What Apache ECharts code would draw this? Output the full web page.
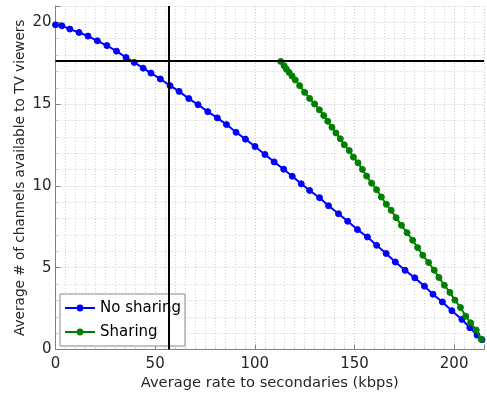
<!DOCTYPE html>
<html>
<head>
<meta charset="utf-8">
<script src="https://cdn.jsdelivr.net/npm/echarts@6/dist/echarts.min.js"></script>
<style>html,body{margin:0;padding:0;background:#fff}#c{width:487px;height:398px}</style>
</head>
<body>
<div id="c"></div>
<script>
const seriesNames = ['No sharing', 'Sharing'];
const blueX = [0, 3.2, 7.2, 11.8, 16.3, 21, 25.8, 30.6, 35.4, 39.5, 44, 47.9, 52.6, 57.5, 62, 66.9, 71.5, 76.4, 81.2, 85.8, 90.6, 95.3, 100.1, 105.1, 109.7, 114.5, 118.8, 123.3, 127.5, 132.5, 137, 142, 146.6, 151.5, 156.5, 161.1, 165.9, 170.5, 175.4, 180.3, 185.1, 189.4, 194.1, 198.9, 203.9, 207.9, 211.5, 214];
const blueY = [19.85, 19.79, 19.59, 19.38, 19.16, 18.87, 18.58, 18.24, 17.85, 17.55, 17.2, 16.9, 16.54, 16.13, 15.78, 15.34, 14.97, 14.54, 14.16, 13.75, 13.28, 12.86, 12.41, 11.92, 11.47, 11.02, 10.59, 10.13, 9.72, 9.28, 8.79, 8.30, 7.84, 7.33, 6.88, 6.37, 5.87, 5.35, 4.84, 4.38, 3.87, 3.38, 2.91, 2.37, 1.84, 1.33, 0.88, 0.6];
const greenX = [113.0, 114.7, 115.8, 117.2, 118.7, 120.3, 122.5, 125.0, 127.5, 130.0, 132.4, 134.6, 136.6, 138.7, 140.7, 142.9, 144.9, 147.4, 149.5, 151.8, 154.0, 156.1, 158.6, 161.1, 163.5, 166.0, 168.4, 170.9, 173.6, 176.4, 179.2, 181.7, 184.3, 187.2, 190.0, 192.4, 195.1, 197.9, 200.4, 203.2, 205.8, 208.3, 211.1, 213.6];
const greenY = [17.61, 17.35, 17.15, 16.94, 16.72, 16.48, 16.13, 15.72, 15.35, 15.01, 14.65, 14.30, 13.95, 13.59, 13.24, 12.88, 12.51, 12.16, 11.76, 11.41, 11.01, 10.60, 10.17, 9.77, 9.32, 8.88, 8.51, 8.06, 7.59, 7.14, 6.68, 6.23, 5.76, 5.32, 4.85, 4.40, 3.93, 3.49, 3.02, 2.57, 2.04, 1.63, 1.19, 0.62];
const refX = 56.6;
const refY = 17.65;
const xTicks = [0, 50, 100, 150, 200];
const yTicks = [0, 5, 10, 15, 20];
const xTitle = 'Average rate to secondaries (kbps)';
const yTitle = 'Average # of channels available to TV viewers';

const font = 'DejaVu Sans';
const txt = '#262626';
const pair = (xs, ys) => xs.map((x, i) => [x, ys[i]]);
const seriesColors = ['#0000ff', '#008000'];

const chart = echarts.init(document.getElementById('c'), null, {renderer: 'canvas'});
chart.setOption({
  animation: false,
  backgroundColor: '#fff',
  textStyle: {fontFamily: font},
  grid: {left: 55.5, right: 0, top: 6, bottom: 48.5, containLabel: false},
  legend: {
    orient: 'vertical', left: 60, bottom: 52,
    backgroundColor: '#fff', borderColor: '#888', borderWidth: 1,
    padding: [5, 4, 5, 4], itemGap: 6, itemWidth: 30, itemHeight: 6,
    textStyle: {fontFamily: font, fontSize: 15, color: '#000', lineHeight: 18},
    data: seriesNames
  },
  xAxis: {
    type: 'value', min: 0, max: 215, interval: 50,
    name: xTitle, nameLocation: 'middle', nameGap: 26, nameMoveOverlap: false,
    nameTextStyle: {fontFamily: font, fontSize: 14.7, color: txt},
    axisLine: {show: true, onZero: false, lineStyle: {color: '#808080', width: 1}},
    axisTick: {show: true, inside: true, length: 5, lineStyle: {color: '#808080'}},
    minorTick: {show: true, splitNumber: 10, length: 2, lineStyle: {color: '#bbb'}},
    axisLabel: {fontFamily: font, fontSize: 15, color: txt, margin: 7,
      formatter: v => xTicks.includes(v) ? String(v) : ''},
    splitLine: {show: true, lineStyle: {color: '#c8c8c8', type: [1, 2], width: 1}},
    minorSplitLine: {show: true, lineStyle: {color: '#d0d0d0', type: [1, 2], width: 1}}
  },
  yAxis: {
    type: 'value', min: 0, max: 21, interval: 5,
    name: yTitle, nameLocation: 'middle', nameGap: 28, nameMoveOverlap: false,
    nameTextStyle: {fontFamily: font, fontSize: 13.6, color: txt},
    axisLine: {show: true, onZero: false, lineStyle: {color: '#808080', width: 1}},
    axisTick: {show: true, inside: true, length: 5, lineStyle: {color: '#808080'}},
    minorTick: {show: true, splitNumber: 5, length: 2, lineStyle: {color: '#bbb'}},
    axisLabel: {fontFamily: font, fontSize: 15, color: txt, margin: 4,
      formatter: v => yTicks.includes(v) ? String(v) : ''},
    splitLine: {show: true, lineStyle: {color: '#c8c8c8', type: [1, 2], width: 1}},
    minorSplitLine: {show: true, lineStyle: {color: '#d0d0d0', type: [1, 2], width: 1}}
  },
  series: [
    {
      name: seriesNames[0], type: 'line', data: pair(blueX, blueY),
      color: seriesColors[0], symbol: 'circle', symbolSize: 6, showAllSymbol: true,
      lineStyle: {width: 2, color: seriesColors[0]},
      itemStyle: {color: seriesColors[0], borderColor: seriesColors[0], borderWidth: 1},
      emphasis: {disabled: true}, z: 3,
      markLine: {
        silent: true, symbol: 'none', animation: false,
        label: {show: false},
        lineStyle: {color: '#000', width: 2, type: 'solid'},
        data: [{xAxis: refX}, {yAxis: refY}]
      }
    },
    {
      name: seriesNames[1], type: 'line', data: pair(greenX, greenY),
      color: seriesColors[1], symbol: 'circle', symbolSize: 6, showAllSymbol: true,
      lineStyle: {width: 2, color: seriesColors[1]},
      itemStyle: {color: seriesColors[1], borderColor: seriesColors[1], borderWidth: 1},
      emphasis: {disabled: true}, z: 4
    }
  ]
});
</script>
</body>
</html>
